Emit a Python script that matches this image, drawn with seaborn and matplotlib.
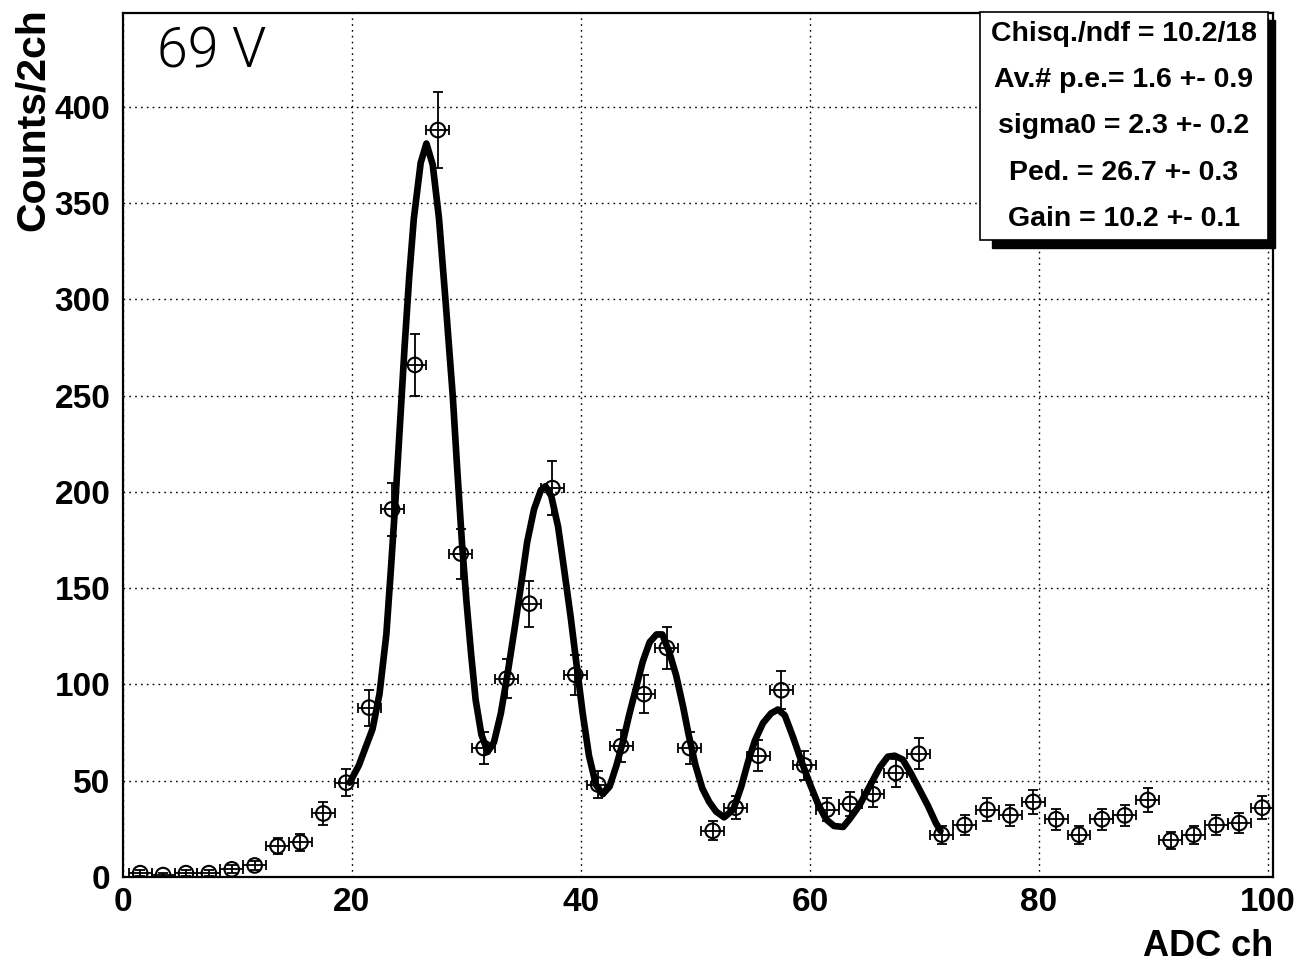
import numpy as np
import pandas as pd
import matplotlib
matplotlib.use("Agg")
import matplotlib.pyplot as plt
from matplotlib.ticker import MultipleLocator
from matplotlib.patches import Rectangle
import seaborn as sns

# ---------------- data ----------------
bin_centers = [1.5, 3.5, 5.5, 7.5, 9.5, 11.5, 13.5, 15.5, 17.5, 19.5,
               21.5, 23.5, 25.5, 27.5, 29.5, 31.5, 33.5, 35.5, 37.5, 39.5,
               41.5, 43.5, 45.5, 47.5, 49.5, 51.5, 53.5, 55.5, 57.5, 59.5,
               61.5, 63.5, 65.5, 67.5, 69.5, 71.5, 73.5, 75.5, 77.5, 79.5,
               81.5, 83.5, 85.5, 87.5, 89.5, 91.5, 93.5, 95.5, 97.5, 99.5]
counts = [2, 1, 2, 2, 4, 6, 16, 18, 33, 49,
          88, 191, 266, 388, 168, 67, 103, 142, 202, 105,
          48, 68, 95, 119, 67, 24, 36, 63, 97, 58,
          35, 38, 43, 54, 64, 22, 27, 35, 32, 39,
          30, 22, 30, 32, 40, 19, 22, 27, 28, 36]
bin_half_width = 1.0

# fit curve
fit_x = [19.8, 20.6, 21.8, 22.4, 23.0, 23.4, 23.8, 24.2, 24.6, 25.0,
         25.4, 26.0, 26.5, 27.05, 27.6, 28.2, 28.8, 29.2, 29.6, 30.0,
         30.4, 30.8, 31.3, 31.85, 32.4, 33.0, 33.6, 34.2, 34.8, 35.3,
         35.9, 36.5, 36.9, 37.4, 38.0, 38.5, 39.1, 39.6, 40.15, 40.7,
         41.3, 41.9, 42.5, 43.1, 43.65, 44.2, 44.8, 45.4, 46.0, 46.6,
         47.1, 47.7, 48.3, 48.9, 49.4, 50.0, 50.6, 51.2, 51.8, 52.5,
         53.3, 54.0, 54.6, 55.2, 55.9, 56.6, 57.2, 57.8, 58.5, 59.2,
         59.95, 60.7, 61.4, 62.1, 62.9, 63.45, 64.3, 65.2, 66.1, 66.8,
         67.4, 68.1, 68.8, 69.6, 70.3, 71.0, 71.4]
fit_y = [49, 58, 77, 95, 126, 160, 196, 236, 276, 312,
         342, 371, 381, 370, 342, 297, 250, 211, 174, 143,
         116, 92, 74, 65, 70, 85, 106, 129, 153, 174,
         191, 201, 203, 198, 182, 161, 135, 111, 85, 63,
         48, 43, 47, 58, 70, 84, 98, 112, 122, 126,
         126, 117, 105, 89, 74, 58, 46, 39, 34, 31,
         35, 47, 60, 71, 80, 85, 87, 84, 73, 61,
         49, 38, 30, 26.5, 26, 30, 37, 47, 57, 62.5,
         63, 61, 54, 45, 37, 28, 24]

stats_lines = ["Chisq./ndf = 10.2/18",
               "Av.# p.e.= 1.6 +- 0.9",
               "sigma0 = 2.3 +- 0.2",
               "Ped. = 26.7 +- 0.3",
               "Gain = 10.2 +- 0.1"]
panel_label = "69 V"
x_label = "ADC ch"
y_label = "Counts/2ch"

# ---------------- style ----------------
sns.set_theme(style="white")
plt.rcParams['font.family'] = ['Liberation Sans', 'DejaVu Sans']

W, H = 1301, 963
fig = plt.figure(figsize=(W / 100, H / 100), dpi=100)
L, R, T, B = 123, 1273, 13, 877
ax = fig.add_axes([L / W, 1 - B / H, (R - L) / W, (B - T) / H])
ax.set_facecolor("white")

df = pd.DataFrame({"x": bin_centers, "y": counts})
df["yerr"] = np.sqrt(df["y"])
fit_df = pd.DataFrame({"x": fit_x, "y": fit_y})

# error bars
ax.errorbar(df["x"], df["y"], xerr=bin_half_width, yerr=df["yerr"],
            fmt="none", ecolor="black", elinewidth=1.3, capsize=3.4,
            capthick=1.3, zorder=3)
# open circle markers
sns.scatterplot(data=df, x="x", y="y", ax=ax, marker="o", s=110,
                facecolors="none", edgecolor="black", linewidth=1.5,
                zorder=4, legend=False)
# fit curve
sns.lineplot(data=fit_df, x="x", y="y", ax=ax, sort=False, estimator=None,
             color="black", linewidth=4.8, zorder=5, legend=False)

ax.set_xlim(0, 100.44)
ax.set_ylim(0, 448.8)

ax.xaxis.set_major_locator(MultipleLocator(20))
ax.xaxis.set_minor_locator(MultipleLocator(5))
ax.yaxis.set_major_locator(MultipleLocator(50))
ax.yaxis.set_minor_locator(MultipleLocator(10))

ax.tick_params(axis="both", which="both", direction="in", color="black",
               width=1.1, labelsize=24, labelcolor="black")
ax.tick_params(axis="x", which="major", length=18, pad=7)
ax.tick_params(axis="x", which="minor", length=9.5)
ax.tick_params(axis="y", which="major", length=26, pad=9)
ax.tick_params(axis="y", which="minor", length=12)
for lab in ax.get_xticklabels() + ax.get_yticklabels():
    lab.set_fontweight("bold")

ax.grid(True, which="major", color="black", linestyle=(0, (1.2, 3.0)),
        linewidth=1.0)
ax.set_axisbelow(True)
for sp in ax.spines.values():
    sp.set_visible(True)
    sp.set_color("black")
    sp.set_linewidth(1.6)

ax.set_xlabel(x_label, fontsize=26, fontweight="bold", loc="right",
              color="black")
ax.xaxis.label.set_va("baseline")
ax.xaxis.set_label_coords(1.0, (B - 956) / (B - T))
ax.set_ylabel(y_label, fontsize=29.5, fontweight="bold", loc="top",
              color="black")
ax.yaxis.label.set_va("baseline")
ax.yaxis.set_label_coords((44 - L) / (R - L), (B - 8) / (B - T))

# panel label
def ax_xy(px, py):
    return (px - L) / (R - L), (B - py) / (B - T)

tx, ty = ax_xy(157, 67)
ax.text(tx, ty, panel_label, transform=ax.transAxes, fontsize=40,
        fontweight=300, family=['Roboto', 'Open Sans', 'DejaVu Sans'],
        va="baseline", ha="left", color="black", zorder=6)

# stats box with shadow
sx0, sy0 = ax_xy(992, 248)
sx1, sy1 = ax_xy(1275, 20)
ax.add_patch(Rectangle((sx0, sy0), sx1 - sx0, sy1 - sy0, transform=ax.transAxes,
                       facecolor="black", edgecolor="black", clip_on=False,
                       zorder=7))
bx0, by0 = ax_xy(980, 240)
bx1, by1 = ax_xy(1268, 12)
ax.add_patch(Rectangle((bx0, by0), bx1 - bx0, by1 - by0, transform=ax.transAxes,
                       facecolor="white", edgecolor="black", linewidth=1.2,
                       clip_on=False, zorder=8))
line_py = [34, 80, 126, 173, 219]
cx = (980 + 1268) / 2
for txt, py in zip(stats_lines, line_py):
    x_, y_ = ax_xy(cx, py)
    ax.text(x_, y_, txt, transform=ax.transAxes, fontsize=20.5,
            fontweight="bold", ha="center", va="center", color="black",
            zorder=9)

fig.savefig("out.png", dpi=100, facecolor="white")
